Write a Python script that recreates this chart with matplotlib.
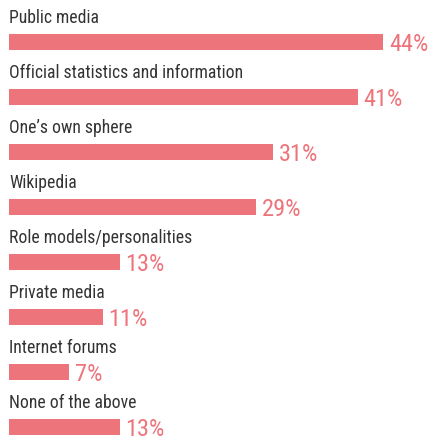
import matplotlib
matplotlib.use("Agg")
import matplotlib.pyplot as plt

categories = [
    "Public media",
    "Official statistics and information",
    "One\u2019s own sphere",
    "Wikipedia",
    "Role models/personalities",
    "Private media",
    "Internet forums",
    "None of the above",
]
values = [44, 41, 31, 29, 13, 11, 7, 13]

bar_color = "#EE747B"
text_color = "#333333"

W, H = 429, 438
fig = plt.figure(figsize=(W / 100, H / 100), dpi=100)
ax = fig.add_axes([0, 0, 1, 1])

px_per_pct = 8.5
left_px = 9
ax.set_xlim(-left_px / px_per_pct, (W - left_px) / px_per_pct)
# each row is 55 px tall; the first bar is centred 42 px below the top
row_px = 55.0
top_px = 42.0
ax.set_ylim((H - top_px) / row_px, -top_px / row_px)

bar_h = 16 / row_px
ys = list(range(len(categories)))
ax.barh(ys, values, height=bar_h, color=bar_color, linewidth=0)

for y, cat, v in zip(ys, categories, values):
    ax.text(0, y - bar_h / 2 - 10.7 / row_px, cat, ha="left", va="baseline",
            fontsize=12.7, color=text_color, family="Roboto Condensed",
            fontweight="normal")
    ax.text(v + 6 / px_per_pct, y + bar_h / 2 + 1.2 / row_px, f"{v}%", ha="left",
            va="baseline", fontsize=17.6, color=bar_color,
            family="Roboto Condensed", fontweight="normal")

ax.axis("off")
fig.savefig("out.png", dpi=100, facecolor="white")
